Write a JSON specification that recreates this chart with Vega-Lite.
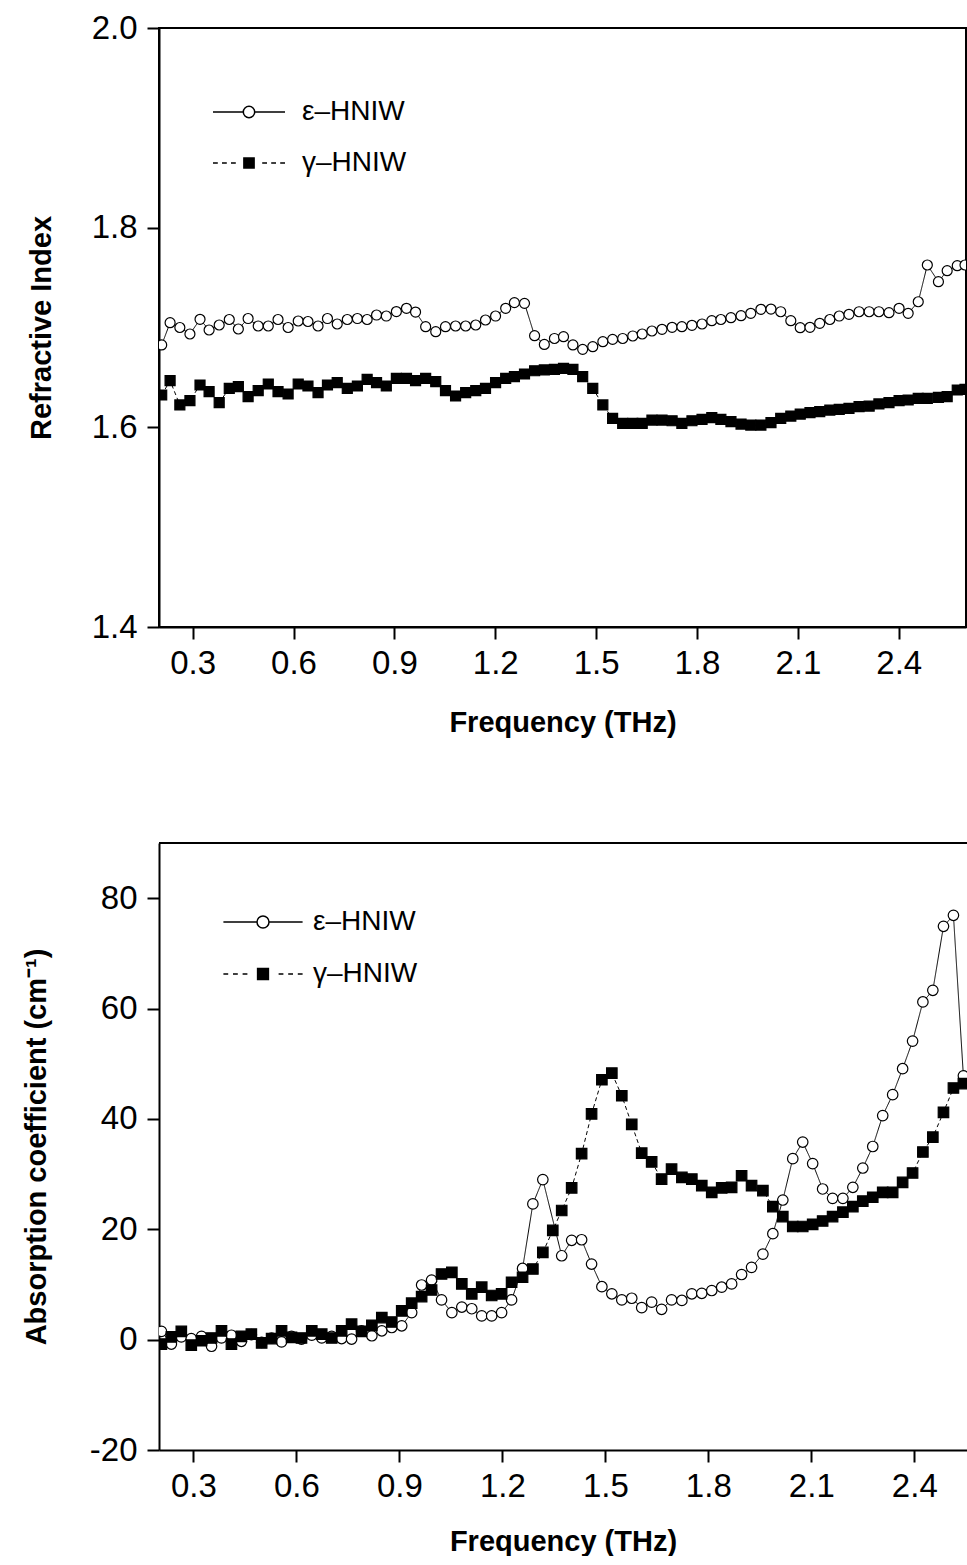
{
  "$schema": "https://vega.github.io/schema/vega-lite/v6.json",
  "padding": {"left": 22, "top": 11, "right": 0, "bottom": 0},
  "background": "white",
  "bounds": "flush",
  "spacing": 216,
  "datasets": {
    "ri": [
      {"s":"ε–HNIW","f":0.208,"v":1.6825},{"s":"ε–HNIW","f":0.233,"v":1.7048},{"s":"ε–HNIW","f":0.262,"v":1.700},{"s":"ε–HNIW","f":0.292,"v":1.6935},{"s":"ε–HNIW","f":0.322,"v":1.7082},{"s":"ε–HNIW","f":0.349,"v":1.6975},{"s":"ε–HNIW","f":0.379,"v":1.7025},{"s":"ε–HNIW","f":0.409,"v":1.708},{"s":"ε–HNIW","f":0.436,"v":1.6985},{"s":"ε–HNIW","f":0.465,"v":1.709},
      {"s":"ε–HNIW","f":0.495,"v":1.7015},{"s":"ε–HNIW","f":0.525,"v":1.7015},{"s":"ε–HNIW","f":0.554,"v":1.708},{"s":"ε–HNIW","f":0.584,"v":1.700},{"s":"ε–HNIW","f":0.614,"v":1.7065},{"s":"ε–HNIW","f":0.643,"v":1.706},{"s":"ε–HNIW","f":0.673,"v":1.7015},{"s":"ε–HNIW","f":0.701,"v":1.709},{"s":"ε–HNIW","f":0.730,"v":1.7035},{"s":"ε–HNIW","f":0.760,"v":1.708},
      {"s":"ε–HNIW","f":0.790,"v":1.709},{"s":"ε–HNIW","f":0.819,"v":1.708},{"s":"ε–HNIW","f":0.847,"v":1.7125},{"s":"ε–HNIW","f":0.876,"v":1.7115},{"s":"ε–HNIW","f":0.906,"v":1.716},{"s":"ε–HNIW","f":0.936,"v":1.7192},{"s":"ε–HNIW","f":0.963,"v":1.7155},{"s":"ε–HNIW","f":0.993,"v":1.7008},{"s":"ε–HNIW","f":1.023,"v":1.6958},{"s":"ε–HNIW","f":1.052,"v":1.7008},
      {"s":"ε–HNIW","f":1.082,"v":1.7015},{"s":"ε–HNIW","f":1.112,"v":1.7015},{"s":"ε–HNIW","f":1.142,"v":1.7025},{"s":"ε–HNIW","f":1.171,"v":1.7075},{"s":"ε–HNIW","f":1.201,"v":1.7115},{"s":"ε–HNIW","f":1.231,"v":1.7192},{"s":"ε–HNIW","f":1.257,"v":1.7249},{"s":"ε–HNIW","f":1.287,"v":1.7242},{"s":"ε–HNIW","f":1.317,"v":1.6918},{"s":"ε–HNIW","f":1.346,"v":1.6830},
      {"s":"ε–HNIW","f":1.376,"v":1.689},{"s":"ε–HNIW","f":1.403,"v":1.6908},{"s":"ε–HNIW","f":1.431,"v":1.6825},{"s":"ε–HNIW","f":1.460,"v":1.6781},{"s":"ε–HNIW","f":1.490,"v":1.6808},{"s":"ε–HNIW","f":1.520,"v":1.6858},{"s":"ε–HNIW","f":1.549,"v":1.6881},{"s":"ε–HNIW","f":1.579,"v":1.689},{"s":"ε–HNIW","f":1.609,"v":1.6915},{"s":"ε–HNIW","f":1.637,"v":1.6935},
      {"s":"ε–HNIW","f":1.666,"v":1.6965},{"s":"ε–HNIW","f":1.696,"v":1.6982},{"s":"ε–HNIW","f":1.726,"v":1.7002},{"s":"ε–HNIW","f":1.755,"v":1.7008},{"s":"ε–HNIW","f":1.785,"v":1.7022},{"s":"ε–HNIW","f":1.815,"v":1.7035},{"s":"ε–HNIW","f":1.844,"v":1.7068},{"s":"ε–HNIW","f":1.871,"v":1.708},{"s":"ε–HNIW","f":1.901,"v":1.7098},{"s":"ε–HNIW","f":1.931,"v":1.7118},
      {"s":"ε–HNIW","f":1.960,"v":1.7142},{"s":"ε–HNIW","f":1.990,"v":1.7182},{"s":"ε–HNIW","f":2.020,"v":1.7185},{"s":"ε–HNIW","f":2.049,"v":1.7158},{"s":"ε–HNIW","f":2.079,"v":1.7068},{"s":"ε–HNIW","f":2.107,"v":1.6998},{"s":"ε–HNIW","f":2.136,"v":1.7002},{"s":"ε–HNIW","f":2.165,"v":1.7042},{"s":"ε–HNIW","f":2.195,"v":1.708},{"s":"ε–HNIW","f":2.223,"v":1.7115},
      {"s":"ε–HNIW","f":2.252,"v":1.7132},{"s":"ε–HNIW","f":2.282,"v":1.7158},{"s":"ε–HNIW","f":2.312,"v":1.7158},{"s":"ε–HNIW","f":2.341,"v":1.7158},{"s":"ε–HNIW","f":2.371,"v":1.7148},{"s":"ε–HNIW","f":2.401,"v":1.7192},{"s":"ε–HNIW","f":2.428,"v":1.7142},{"s":"ε–HNIW","f":2.458,"v":1.7258},{"s":"ε–HNIW","f":2.485,"v":1.7626},{"s":"ε–HNIW","f":2.518,"v":1.7459},
      {"s":"ε–HNIW","f":2.544,"v":1.7569},{"s":"ε–HNIW","f":2.574,"v":1.7619},{"s":"ε–HNIW","f":2.597,"v":1.7626},
      {"s":"γ–HNIW","f":0.208,"v":1.6324},{"s":"γ–HNIW","f":0.233,"v":1.6467},{"s":"γ–HNIW","f":0.262,"v":1.6224},{"s":"γ–HNIW","f":0.292,"v":1.6267},{"s":"γ–HNIW","f":0.322,"v":1.6424},{"s":"γ–HNIW","f":0.349,"v":1.6357},{"s":"γ–HNIW","f":0.379,"v":1.6247},{"s":"γ–HNIW","f":0.409,"v":1.6391},{"s":"γ–HNIW","f":0.436,"v":1.6407},{"s":"γ–HNIW","f":0.465,"v":1.6307},
      {"s":"γ–HNIW","f":0.495,"v":1.6367},{"s":"γ–HNIW","f":0.525,"v":1.6434},{"s":"γ–HNIW","f":0.554,"v":1.6357},{"s":"γ–HNIW","f":0.584,"v":1.6334},{"s":"γ–HNIW","f":0.614,"v":1.6434},{"s":"γ–HNIW","f":0.643,"v":1.6414},{"s":"γ–HNIW","f":0.673,"v":1.6347},{"s":"γ–HNIW","f":0.701,"v":1.6424},{"s":"γ–HNIW","f":0.730,"v":1.6447},{"s":"γ–HNIW","f":0.760,"v":1.6391},
      {"s":"γ–HNIW","f":0.790,"v":1.6414},{"s":"γ–HNIW","f":0.819,"v":1.6481},{"s":"γ–HNIW","f":0.847,"v":1.6447},{"s":"γ–HNIW","f":0.876,"v":1.6414},{"s":"γ–HNIW","f":0.906,"v":1.6491},{"s":"γ–HNIW","f":0.936,"v":1.6491},{"s":"γ–HNIW","f":0.963,"v":1.6467},{"s":"γ–HNIW","f":0.993,"v":1.6491},{"s":"γ–HNIW","f":1.023,"v":1.6457},{"s":"γ–HNIW","f":1.052,"v":1.6367},
      {"s":"γ–HNIW","f":1.082,"v":1.6314},{"s":"γ–HNIW","f":1.112,"v":1.6347},{"s":"γ–HNIW","f":1.142,"v":1.6367},{"s":"γ–HNIW","f":1.171,"v":1.6391},{"s":"γ–HNIW","f":1.201,"v":1.6447},{"s":"γ–HNIW","f":1.231,"v":1.6491},{"s":"γ–HNIW","f":1.257,"v":1.6507},{"s":"γ–HNIW","f":1.287,"v":1.6534},{"s":"γ–HNIW","f":1.317,"v":1.6567},{"s":"γ–HNIW","f":1.346,"v":1.6575},
      {"s":"γ–HNIW","f":1.376,"v":1.6581},{"s":"γ–HNIW","f":1.403,"v":1.6591},{"s":"γ–HNIW","f":1.431,"v":1.6581},{"s":"γ–HNIW","f":1.460,"v":1.6507},{"s":"γ–HNIW","f":1.490,"v":1.6391},{"s":"γ–HNIW","f":1.520,"v":1.6224},{"s":"γ–HNIW","f":1.549,"v":1.609},{"s":"γ–HNIW","f":1.579,"v":1.604},{"s":"γ–HNIW","f":1.609,"v":1.604},{"s":"γ–HNIW","f":1.637,"v":1.604},
      {"s":"γ–HNIW","f":1.666,"v":1.6073},{"s":"γ–HNIW","f":1.696,"v":1.6073},{"s":"γ–HNIW","f":1.726,"v":1.6066},{"s":"γ–HNIW","f":1.755,"v":1.604},{"s":"γ–HNIW","f":1.785,"v":1.6066},{"s":"γ–HNIW","f":1.815,"v":1.608},{"s":"γ–HNIW","f":1.844,"v":1.6097},{"s":"γ–HNIW","f":1.871,"v":1.608},{"s":"γ–HNIW","f":1.901,"v":1.6057},{"s":"γ–HNIW","f":1.931,"v":1.6033},
      {"s":"γ–HNIW","f":1.960,"v":1.6023},{"s":"γ–HNIW","f":1.990,"v":1.6023},{"s":"γ–HNIW","f":2.020,"v":1.6047},{"s":"γ–HNIW","f":2.049,"v":1.609},{"s":"γ–HNIW","f":2.079,"v":1.6113},{"s":"γ–HNIW","f":2.107,"v":1.6133},{"s":"γ–HNIW","f":2.136,"v":1.6147},{"s":"γ–HNIW","f":2.165,"v":1.6157},{"s":"γ–HNIW","f":2.195,"v":1.6173},{"s":"γ–HNIW","f":2.223,"v":1.618},
      {"s":"γ–HNIW","f":2.252,"v":1.619},{"s":"γ–HNIW","f":2.282,"v":1.6207},{"s":"γ–HNIW","f":2.312,"v":1.6213},{"s":"γ–HNIW","f":2.341,"v":1.6234},{"s":"γ–HNIW","f":2.371,"v":1.6247},{"s":"γ–HNIW","f":2.401,"v":1.6267},{"s":"γ–HNIW","f":2.428,"v":1.6274},{"s":"γ–HNIW","f":2.458,"v":1.629},{"s":"γ–HNIW","f":2.485,"v":1.629},{"s":"γ–HNIW","f":2.518,"v":1.6301},
      {"s":"γ–HNIW","f":2.544,"v":1.6307},{"s":"γ–HNIW","f":2.574,"v":1.6374},{"s":"γ–HNIW","f":2.597,"v":1.638}
    ],
    "ab": [
      {"s":"ε–HNIW","f":0.207,"v":1.5},{"s":"ε–HNIW","f":0.236,"v":-0.8},{"s":"ε–HNIW","f":0.265,"v":0.5},{"s":"ε–HNIW","f":0.294,"v":0.2},{"s":"ε–HNIW","f":0.324,"v":0.6},{"s":"ε–HNIW","f":0.353,"v":-1.2},{"s":"ε–HNIW","f":0.382,"v":0.3},{"s":"ε–HNIW","f":0.411,"v":0.8},{"s":"ε–HNIW","f":0.440,"v":-0.3},{"s":"ε–HNIW","f":0.469,"v":0.9},
      {"s":"ε–HNIW","f":0.499,"v":-0.5},{"s":"ε–HNIW","f":0.528,"v":0.3},{"s":"ε–HNIW","f":0.557,"v":-0.4},{"s":"ε–HNIW","f":0.586,"v":0.6},{"s":"ε–HNIW","f":0.615,"v":0.1},{"s":"ε–HNIW","f":0.645,"v":0.8},{"s":"ε–HNIW","f":0.674,"v":0.3},{"s":"ε–HNIW","f":0.703,"v":0.6},{"s":"ε–HNIW","f":0.732,"v":0.2},{"s":"ε–HNIW","f":0.761,"v":0.1},
      {"s":"ε–HNIW","f":0.790,"v":1.6},{"s":"ε–HNIW","f":0.820,"v":0.7},{"s":"ε–HNIW","f":0.849,"v":1.6},{"s":"ε–HNIW","f":0.878,"v":2.2},{"s":"ε–HNIW","f":0.907,"v":2.5},{"s":"ε–HNIW","f":0.936,"v":4.9},{"s":"ε–HNIW","f":0.965,"v":9.9},{"s":"ε–HNIW","f":0.994,"v":10.8},{"s":"ε–HNIW","f":1.023,"v":7.2},{"s":"ε–HNIW","f":1.053,"v":4.9},
      {"s":"ε–HNIW","f":1.082,"v":5.9},{"s":"ε–HNIW","f":1.111,"v":5.6},{"s":"ε–HNIW","f":1.140,"v":4.3},{"s":"ε–HNIW","f":1.169,"v":4.3},{"s":"ε–HNIW","f":1.198,"v":4.9},{"s":"ε–HNIW","f":1.227,"v":7.2},{"s":"ε–HNIW","f":1.259,"v":12.9},{"s":"ε–HNIW","f":1.289,"v":24.6},{"s":"ε–HNIW","f":1.318,"v":29.0},{"s":"ε–HNIW","f":1.373,"v":15.2},
      {"s":"ε–HNIW","f":1.402,"v":18.0},{"s":"ε–HNIW","f":1.431,"v":18.1},{"s":"ε–HNIW","f":1.460,"v":13.7},{"s":"ε–HNIW","f":1.490,"v":9.6},{"s":"ε–HNIW","f":1.519,"v":8.3},{"s":"ε–HNIW","f":1.548,"v":7.2},{"s":"ε–HNIW","f":1.577,"v":7.5},{"s":"ε–HNIW","f":1.606,"v":5.8},{"s":"ε–HNIW","f":1.635,"v":6.8},{"s":"ε–HNIW","f":1.664,"v":5.5},
      {"s":"ε–HNIW","f":1.693,"v":7.2},{"s":"ε–HNIW","f":1.723,"v":7.1},{"s":"ε–HNIW","f":1.752,"v":8.3},{"s":"ε–HNIW","f":1.781,"v":8.4},{"s":"ε–HNIW","f":1.810,"v":8.9},{"s":"ε–HNIW","f":1.839,"v":9.5},{"s":"ε–HNIW","f":1.868,"v":10.1},{"s":"ε–HNIW","f":1.897,"v":11.8},{"s":"ε–HNIW","f":1.926,"v":13.1},{"s":"ε–HNIW","f":1.959,"v":15.5},
      {"s":"ε–HNIW","f":1.988,"v":19.2},{"s":"ε–HNIW","f":2.017,"v":25.3},{"s":"ε–HNIW","f":2.046,"v":32.8},{"s":"ε–HNIW","f":2.075,"v":35.8},{"s":"ε–HNIW","f":2.104,"v":31.9},{"s":"ε–HNIW","f":2.133,"v":27.3},{"s":"ε–HNIW","f":2.162,"v":25.6},{"s":"ε–HNIW","f":2.192,"v":25.6},{"s":"ε–HNIW","f":2.221,"v":27.6},{"s":"ε–HNIW","f":2.250,"v":31.1},
      {"s":"ε–HNIW","f":2.279,"v":35.0},{"s":"ε–HNIW","f":2.308,"v":40.6},{"s":"ε–HNIW","f":2.337,"v":44.4},{"s":"ε–HNIW","f":2.366,"v":49.1},{"s":"ε–HNIW","f":2.395,"v":54.1},{"s":"ε–HNIW","f":2.425,"v":61.2},{"s":"ε–HNIW","f":2.454,"v":63.3},{"s":"ε–HNIW","f":2.485,"v":74.9},{"s":"ε–HNIW","f":2.514,"v":76.9},{"s":"ε–HNIW","f":2.543,"v":47.8},
      {"s":"γ–HNIW","f":0.207,"v":-0.8},{"s":"γ–HNIW","f":0.236,"v":0.5},{"s":"γ–HNIW","f":0.265,"v":1.5},{"s":"γ–HNIW","f":0.294,"v":-1.0},{"s":"γ–HNIW","f":0.324,"v":-0.2},{"s":"γ–HNIW","f":0.353,"v":0.3},{"s":"γ–HNIW","f":0.382,"v":1.6},{"s":"γ–HNIW","f":0.411,"v":-0.8},{"s":"γ–HNIW","f":0.440,"v":0.6},{"s":"γ–HNIW","f":0.469,"v":1.0},
      {"s":"γ–HNIW","f":0.499,"v":-0.6},{"s":"γ–HNIW","f":0.528,"v":0.2},{"s":"γ–HNIW","f":0.557,"v":1.6},{"s":"γ–HNIW","f":0.586,"v":0.4},{"s":"γ–HNIW","f":0.615,"v":0.3},{"s":"γ–HNIW","f":0.645,"v":1.6},{"s":"γ–HNIW","f":0.674,"v":1.0},{"s":"γ–HNIW","f":0.703,"v":0.3},{"s":"γ–HNIW","f":0.732,"v":1.6},{"s":"γ–HNIW","f":0.761,"v":2.8},
      {"s":"γ–HNIW","f":0.790,"v":1.5},{"s":"γ–HNIW","f":0.820,"v":2.6},{"s":"γ–HNIW","f":0.849,"v":4.0},{"s":"γ–HNIW","f":0.878,"v":3.2},{"s":"γ–HNIW","f":0.907,"v":5.2},{"s":"γ–HNIW","f":0.936,"v":6.6},{"s":"γ–HNIW","f":0.965,"v":7.8},{"s":"γ–HNIW","f":0.994,"v":9.0},{"s":"γ–HNIW","f":1.023,"v":11.9},{"s":"γ–HNIW","f":1.053,"v":12.2},
      {"s":"γ–HNIW","f":1.082,"v":10.1},{"s":"γ–HNIW","f":1.111,"v":8.3},{"s":"γ–HNIW","f":1.140,"v":9.5},{"s":"γ–HNIW","f":1.169,"v":8.0},{"s":"γ–HNIW","f":1.198,"v":8.3},{"s":"γ–HNIW","f":1.227,"v":10.4},{"s":"γ–HNIW","f":1.259,"v":11.3},{"s":"γ–HNIW","f":1.289,"v":12.8},{"s":"γ–HNIW","f":1.318,"v":15.8},{"s":"γ–HNIW","f":1.347,"v":19.8},
      {"s":"γ–HNIW","f":1.373,"v":23.4},{"s":"γ–HNIW","f":1.402,"v":27.5},{"s":"γ–HNIW","f":1.431,"v":33.7},{"s":"γ–HNIW","f":1.460,"v":40.9},{"s":"γ–HNIW","f":1.490,"v":47.1},{"s":"γ–HNIW","f":1.519,"v":48.3},{"s":"γ–HNIW","f":1.548,"v":44.2},{"s":"γ–HNIW","f":1.577,"v":39.0},{"s":"γ–HNIW","f":1.606,"v":33.8},{"s":"γ–HNIW","f":1.635,"v":32.2},
      {"s":"γ–HNIW","f":1.664,"v":29.1},{"s":"γ–HNIW","f":1.693,"v":30.9},{"s":"γ–HNIW","f":1.723,"v":29.4},{"s":"γ–HNIW","f":1.752,"v":29.1},{"s":"γ–HNIW","f":1.781,"v":27.9},{"s":"γ–HNIW","f":1.810,"v":26.7},{"s":"γ–HNIW","f":1.839,"v":27.5},{"s":"γ–HNIW","f":1.868,"v":27.6},{"s":"γ–HNIW","f":1.897,"v":29.7},{"s":"γ–HNIW","f":1.926,"v":27.9},
      {"s":"γ–HNIW","f":1.959,"v":27.0},{"s":"γ–HNIW","f":1.988,"v":24.1},{"s":"γ–HNIW","f":2.017,"v":22.3},{"s":"γ–HNIW","f":2.046,"v":20.5},{"s":"γ–HNIW","f":2.075,"v":20.5},{"s":"γ–HNIW","f":2.104,"v":20.9},{"s":"γ–HNIW","f":2.133,"v":21.5},{"s":"γ–HNIW","f":2.162,"v":22.3},{"s":"γ–HNIW","f":2.192,"v":23.1},{"s":"γ–HNIW","f":2.221,"v":24.1},
      {"s":"γ–HNIW","f":2.250,"v":25.1},{"s":"γ–HNIW","f":2.279,"v":25.8},{"s":"γ–HNIW","f":2.308,"v":26.7},{"s":"γ–HNIW","f":2.337,"v":26.7},{"s":"γ–HNIW","f":2.366,"v":28.5},{"s":"γ–HNIW","f":2.395,"v":30.2},{"s":"γ–HNIW","f":2.425,"v":34.0},{"s":"γ–HNIW","f":2.454,"v":36.7},{"s":"γ–HNIW","f":2.485,"v":41.2},{"s":"γ–HNIW","f":2.514,"v":45.6},
      {"s":"γ–HNIW","f":2.543,"v":46.4}
    ]
  },
  "vconcat": [
    {
      "width": 807,
      "height": 599,
      "data": {"name": "ri"},
      "encoding": {
        "x": {"field": "f", "type": "quantitative", "scale": {"domain": [0.2, 2.6], "nice": false, "zero": false},
              "axis": {"values": [0.3, 0.6, 0.9, 1.2, 1.5, 1.8, 2.1, 2.4], "format": ".1f", "title": "Frequency (THz)", "titleY": 104, "titleBaseline": "alphabetic"}},
        "y": {"field": "v", "type": "quantitative", "scale": {"domain": [1.4, 2.0], "nice": false, "zero": false},
              "axis": {"values": [1.4, 1.6, 1.8, 2.0], "format": ".1f", "title": "Refractive Index", "titleX": -109, "titleBaseline": "alphabetic"}}
      },
      "layer": [
        {
          "mark": {"type": "line", "color": "black", "strokeWidth": 1, "clip": true},
          "encoding": {"strokeDash": {"field": "s", "scale": {"domain": ["ε–HNIW", "γ–HNIW"], "range": [[1, 0], [4, 3]]}, "legend": null}}
        },
        {
          "mark": {"type": "point", "stroke": "black", "strokeWidth": 1.2, "opacity": 1, "size": 100, "clip": true},
          "encoding": {
            "shape": {"field": "s", "scale": {"domain": ["ε–HNIW", "γ–HNIW"], "range": ["circle", "square"]}, "legend": null},
            "fill": {"field": "s", "scale": {"domain": ["ε–HNIW", "γ–HNIW"], "range": ["white", "black"]}, "legend": null}
          }
        },
        {
          "transform": [{"filter": "datum.f > 100"}],
          "mark": {"type": "point", "stroke": "black", "strokeWidth": 1, "opacity": 1},
          "encoding": {
            "shape": {"field": "s", "scale": {"domain": ["ε–HNIW", "γ–HNIW"], "range": ["M-6,0H-0.95M0.95,0H6M0.95,0A0.95,0.95,0,1,1,-0.95,0A0.95,0.95,0,1,1,0.95,0Z", "M-6,0H-5.2M-4.5,0H-3.7M-3,0H-2.2M-0.85,-0.85H0.85V0.85H-0.85ZM2.2,0H3M3.7,0H4.5M5.2,0H6"]},
                      "legend": {"orient": "none", "legendX": 76, "legendY": 70, "title": null, "symbolSize": 144, "labelOffset": 39, "rowPadding": 23,
                                 "encode": {"symbols": {"update": {"stroke": {"value": "black"}, "strokeWidth": {"value": 1}, "opacity": {"value": 1}}}}}},
            "fill": {"field": "s", "scale": {"domain": ["ε–HNIW", "γ–HNIW"], "range": ["white", "black"]},
                      "legend": {"orient": "none", "legendX": 76, "legendY": 70, "title": null, "symbolSize": 144, "labelOffset": 39, "rowPadding": 23,
                                 "encode": {"symbols": {"update": {"stroke": {"value": "black"}, "strokeWidth": {"value": 1}, "opacity": {"value": 1}}}}}}
          }
        }
      ],
      "resolve": {"scale": {"shape": "independent", "fill": "independent"}}
    },
    {
      "width": 808,
      "height": 607,
      "view": {"stroke": null},
      "data": {"name": "ab"},
      "encoding": {
        "x": {"field": "f", "type": "quantitative", "scale": {"domain": [0.2, 2.5535], "nice": false, "zero": false},
              "axis": {"values": [0.3, 0.6, 0.9, 1.2, 1.5, 1.8, 2.1, 2.4], "format": ".1f", "title": "Frequency (THz)", "titleY": 100, "titleBaseline": "alphabetic"}},
        "y": {"field": "v", "type": "quantitative", "scale": {"domain": [-20, 90], "nice": false, "zero": false},
              "axis": {"values": [-20, 0, 20, 40, 60, 80], "labelExpr": "replace(datum.label, '−', '-')", "title": "Absorption coefficient (cm⁻¹)", "titleX": -114, "titleBaseline": "alphabetic"}}
      },
      "layer": [
        {
          "mark": {"type": "rule", "color": "black", "strokeWidth": 2, "clip": false},
          "encoding": {"y": {"datum": 90}, "x": {"value": 0}, "x2": {"value": 808}}
        },
        {
          "mark": {"type": "line", "color": "black", "strokeWidth": 1, "clip": true},
          "encoding": {"strokeDash": {"field": "s", "scale": {"domain": ["ε–HNIW", "γ–HNIW"], "range": [[1, 0], [4, 3]]}, "legend": null}}
        },
        {
          "mark": {"type": "point", "stroke": "black", "strokeWidth": 1.2, "opacity": 1, "size": 110, "clip": true},
          "encoding": {
            "shape": {"field": "s", "scale": {"domain": ["ε–HNIW", "γ–HNIW"], "range": ["circle", "square"]}, "legend": null},
            "fill": {"field": "s", "scale": {"domain": ["ε–HNIW", "γ–HNIW"], "range": ["white", "black"]}, "legend": null}
          }
        },
        {
          "transform": [{"filter": "datum.f > 100"}],
          "mark": {"type": "point", "stroke": "black", "strokeWidth": 1, "opacity": 1},
          "encoding": {
            "shape": {"field": "s", "scale": {"domain": ["ε–HNIW", "γ–HNIW"], "range": ["M-6.6,0H-1M1,0H6.6M1,0A1,1,0,1,1,-1,0A1,1,0,1,1,1,0Z", "M-6.6,0H-5.8M-5,0H-4.2M-3.4,0H-2.6M-0.9,-0.9H0.9V0.9H-0.9ZM2.6,0H3.4M4.2,0H5M5.8,0H6.6"]},
                      "legend": {"orient": "none", "legendX": 90, "legendY": 65, "title": null, "symbolSize": 144, "labelOffset": 36, "rowPadding": 24,
                                 "encode": {"symbols": {"update": {"stroke": {"value": "black"}, "strokeWidth": {"value": 1}, "opacity": {"value": 1}}}}}},
            "fill": {"field": "s", "scale": {"domain": ["ε–HNIW", "γ–HNIW"], "range": ["white", "black"]},
                      "legend": {"orient": "none", "legendX": 90, "legendY": 65, "title": null, "symbolSize": 144, "labelOffset": 36, "rowPadding": 24,
                                 "encode": {"symbols": {"update": {"stroke": {"value": "black"}, "strokeWidth": {"value": 1}, "opacity": {"value": 1}}}}}}
          }
        }
      ],
      "resolve": {"scale": {"shape": "independent", "fill": "independent"}}
    }
  ],
  "config": {
    "font": "Liberation Sans",
    "view": {"stroke": "black", "strokeWidth": 2},
    "axis": {
      "grid": false,
      "domainColor": "black", "domainWidth": 2,
      "tickColor": "black", "tickWidth": 2, "tickSize": 12,
      "labelFont": "Liberation Sans", "labelFontSize": 33, "labelColor": "black", "labelPadding": 8,
      "labelFlush": false, "labelOverlap": false,
      "titleFont": "Liberation Sans", "titleFontSize": 29, "titleFontWeight": "bold", "titleColor": "black"
    },
    "axisY": {"labelPadding": 10},
    "legend": {
      "labelFont": "Liberation Sans", "labelFontSize": 28, "labelColor": "black", "padding": 0, "labelLimit": 400
    }
  }
}
